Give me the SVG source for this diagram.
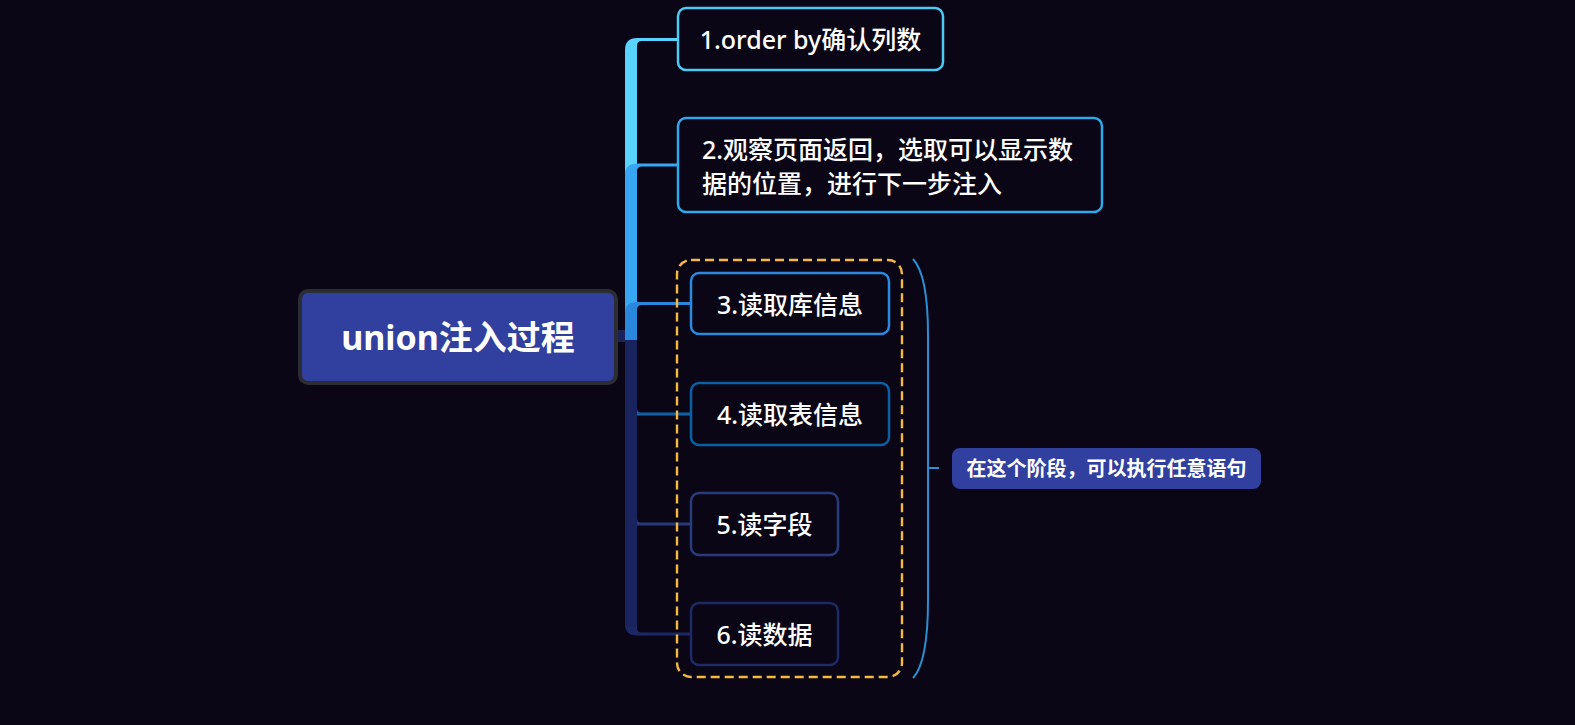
<svg xmlns="http://www.w3.org/2000/svg" width="1575" height="725" viewBox="0 0 1575 725">
<style>
.t{font-family:"Noto Sans","Noto Sans CJK SC",sans-serif;fill:#ffffff;font-size:25px;font-weight:500;dominant-baseline:central}
.c{text-anchor:middle}
.node{fill:#0a0616;stroke-width:2.5}
</style>
<rect x="0" y="0" width="1575" height="725" fill="#0a0616"/>
<g id="connectors">
  <rect x="612" y="330" width="20" height="12" fill="#19235a"/>
  <path d="M625,337 L625,624 Q625,635.5 637,635.5 L691,635.5 L691,632.5 L641,632.5 Q637,632.5 637,628 L637,337 Z" fill="#1b2865"/>
  <path d="M625,337 L625,514 Q625,525.5 637,525.5 L691,525.5 L691,522.5 L641,522.5 Q637,522.5 637,518 L637,337 Z" fill="#26387a"/>
  <path d="M625,337 L625,404 Q625,415.5 637,415.5 L691,415.5 L691,412.5 L641,412.5 Q637,412.5 637,408 L637,337 Z" fill="#0c62a6"/>
  <rect x="625" y="337" width="12" height="290" fill="#19245e"/>
  <path d="M625,340 L625,50 Q625,38 637,38 L678,38 L678,41 L642,41 Q637,41 637,46 L637,340 Z" fill="#5ad2ff"/>
  <path d="M625,340 L625,175 Q625,163.5 637,163.5 L678,163.5 L678,166.5 L642,166.5 Q637,166.5 637,171 L637,340 Z" fill="#37a7f3"/>
  <path d="M625,340 L625,313 Q625,302 637,302 L691,302 L691,305 L642,305 Q637,305 637,310 L637,340 Z" fill="#2a87de"/>
</g>
<g id="root">
  <rect x="300" y="291" width="316" height="92" rx="8" fill="#313f9f" stroke="#2c2c33" stroke-width="4"/>
  <text class="t c" x="458" y="337" style="font-size:34px;font-weight:700">union注入过程</text>
</g>
<g id="n1">
  <rect class="node" x="678" y="8" width="265" height="62" rx="8" stroke="#4ec9f2"/>
  <text class="t c" x="810.5" y="39">1.order by确认列数</text>
</g>
<g id="n2">
  <rect class="node" x="678" y="118" width="424" height="94" rx="8" stroke="#2fa9ea"/>
  <text class="t" x="702" y="149">2.观察页面返回，选取可以显示数</text>
  <text class="t" x="702" y="183">据的位置，进行下一步注入</text>
</g>
<g id="group-box">
  <rect x="677" y="260" width="225" height="417" rx="14" fill="none" stroke="#f5b942" stroke-width="2.4" stroke-dasharray="9,5"/>
</g>
<g id="n3">
  <rect class="node" x="691" y="273" width="198" height="61" rx="8" stroke="#2b8ae0"/>
  <text class="t c" x="790" y="303.5">3.读取库信息</text>
</g>
<g id="n4">
  <rect class="node" x="691" y="383" width="198" height="62" rx="8" stroke="#0b5fa5"/>
  <text class="t c" x="790" y="414">4.读取表信息</text>
</g>
<g id="n5">
  <rect class="node" x="691" y="493" width="147" height="62" rx="8" stroke="#283c7c"/>
  <text class="t c" x="764.5" y="524">5.读字段</text>
</g>
<g id="n6">
  <rect class="node" x="691" y="603" width="147" height="62" rx="8" stroke="#1d2a66"/>
  <text class="t c" x="764.5" y="634">6.读数据</text>
</g>
<g id="summary-brace">
  <path d="M913,259 Q928,275 928,335 L928,600 Q928,662 913,678" fill="none" stroke="#2b8fd0" stroke-width="2"/>
  <path d="M928,468 L939,468" fill="none" stroke="#2b8fd0" stroke-width="2"/>
</g>
<g id="summary">
  <rect x="952" y="448" width="309" height="41" rx="8" fill="#313f9f"/>
  <text class="t c" x="1106.5" y="468.5" style="font-size:20px;font-weight:700">在这个阶段，可以执行任意语句</text>
</g>
</svg>
